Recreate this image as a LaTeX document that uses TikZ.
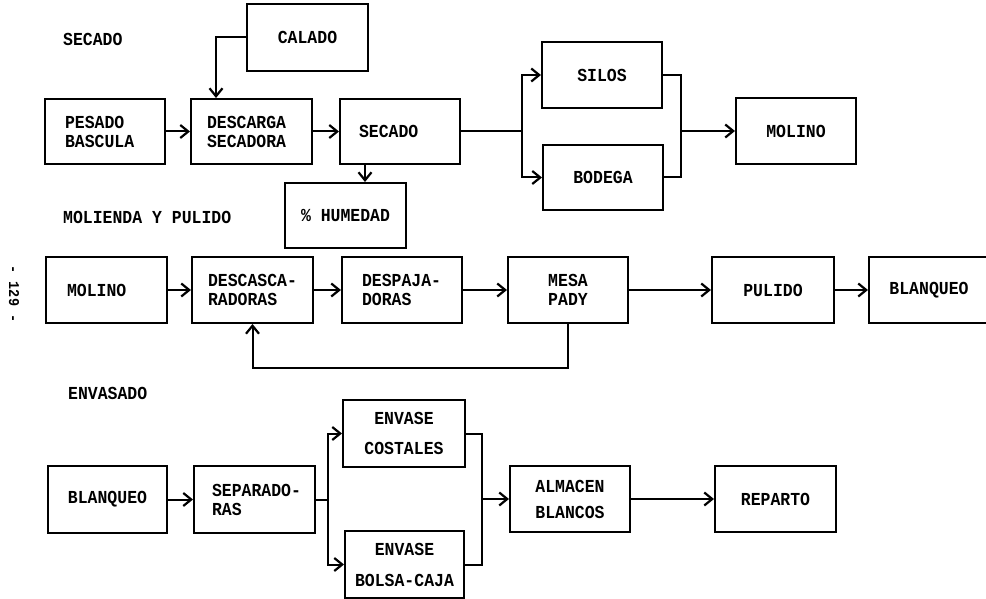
\documentclass[tikz,border=0pt]{standalone}
\usepackage{fontspec}
\setmonofont[FakeStretch=0.9]{Liberation Mono}
\usetikzlibrary{arrows.meta}
\begin{document}
\begin{tikzpicture}[x=1pt,y=-1pt,
  every node/.style={font=\ttfamily\bfseries\fontsize{18.3}{19}\selectfont},
  box/.style={draw, line width=2pt, minimum width=120pt, minimum height=66pt, align=center, inner sep=0pt},
  lbox/.style={box, align=left},
  conn/.style={draw, line width=2pt},
  arr/.style={conn, -{Straight Barb[length=8pt,width=13pt,line width=2.2pt]}},
  ttl/.style={anchor=west, inner sep=0pt}]
\clip (0,0) rectangle (986,599);
\fill[white] (0,0) rectangle (986,599);

% titles
\node[ttl] (t1) at (63,39) {SECADO};
\node[ttl] (t2) at (63,217) {MOLIENDA Y PULIDO};
\node[ttl] (t3) at (68,393) {ENVASADO};
\node[rotate=-90, font=\ttfamily\bfseries\fontsize{15}{16}\selectfont] (pg) at (14,294) {- 129 -};

% row 1
\node[box, minimum width=121pt, minimum height=67pt] (calado) at (307.5,37.5) {CALADO};
\node[lbox, minimum height=65pt, inner xsep=20pt, text width=80pt] (pesado) at (105,131.5) {PESADO\\BASCULA};
\node[lbox, minimum height=65pt, inner xsep=16pt, text width=89pt] (descarga) at (251.5,131.5) {DESCARGA\\SECADORA};
\node[lbox, minimum height=65pt, inner xsep=19pt, text width=82pt] (secado) at (400,131.5) {SECADO};
\node[box, minimum width=121pt, minimum height=65pt] (humedad) at (345.5,215.5) {\% HUMEDAD};
\node[box] (silos) at (602,75) {SILOS};
\node[box, minimum height=65pt] (bodega) at (603,177.5) {BODEGA};
\node[box] (molino1) at (796,131) {MOLINO};

\coordinate (sp1) at (522,131.5);
\coordinate (mg1) at (681,131);

\draw[arr] (pesado.east) -- (descarga.west);
\draw[arr] (descarga.east) -- (secado.west);
\draw[arr] (calado.west) -| ([xshift=26pt]descarga.north west);
\draw[arr] ([xshift=26pt]secado.south west) -- ([xshift=26pt]secado.south west |- humedad.north);
\draw[conn] (secado.east) -- (sp1);
\draw[arr] (sp1) |- (silos.west);
\draw[arr] (sp1) |- (bodega.west);
\draw[conn] (silos.east) -| (mg1);
\draw[conn] (bodega.east) -| (mg1);
\draw[arr] (mg1) -- (molino1.west);

% row 2
\node[lbox, inner xsep=21pt, text width=79pt] (molino2) at (106.5,290) {MOLINO};
\node[lbox, inner xsep=16pt, text width=89pt] (descasc) at (252.5,290) {DESCASCA-\\RADORAS};
\node[lbox, inner xsep=20pt, text width=80pt] (despaj) at (402,290) {DESPAJA-\\DORAS};
\node[box] (mesa) at (568,290) {MESA\\PADY};
\node[box, minimum width=122pt] (pulido) at (773,290) {PULIDO};
\node[box, minimum width=130pt] (blanq1) at (934,290) {\hspace*{-10pt}BLANQUEO};

\draw[arr] (molino2.east) -- (descasc.west);
\draw[arr] (descasc.east) -- (despaj.west);
\draw[arr] (despaj.east) -- (mesa.west);
\draw[arr] (mesa.east) -- (pulido.west);
\draw[arr] (pulido.east) -- (blanq1.west);
\draw[arr] (mesa.south) -- ++(0,44) -| (descasc.south);

% row 3
\node[box, minimum width=119pt, minimum height=67pt] (blanq2) at (107.5,499.5) {BLANQUEO};
\node[lbox, minimum width=121pt, minimum height=67pt, inner xsep=18pt, text width=85pt] (separ) at (254.5,499.5) {SEPARADO-\\RAS};
\node[box, minimum width=122pt, minimum height=67pt] (costales) at (404,433.5) {ENVASE\\[11pt]COSTALES};
\node[box, minimum width=119pt, minimum height=67pt] (bolsa) at (404.5,564.5) {ENVASE\\[12pt]BOLSA-CAJA};
\node[box] (almacen) at (570,499) {ALMACEN\\[7pt]BLANCOS};
\node[box, minimum width=121pt] (reparto) at (775.5,499) {REPARTO};

\coordinate (sp3) at (328,499.5);
\coordinate (mg3) at (482,499);

\draw[arr] (blanq2.east) -- (separ.west);
\draw[conn] (separ.east) -- (sp3);
\draw[arr] (sp3) |- (costales.west);
\draw[arr] (sp3) |- (bolsa.west);
\draw[conn] (costales.east) -| (mg3);
\draw[conn] (bolsa.east) -| (mg3);
\draw[arr] (mg3) -- (almacen.west);
\draw[arr] (almacen.east) -- (reparto.west);
\end{tikzpicture}
\end{document}
